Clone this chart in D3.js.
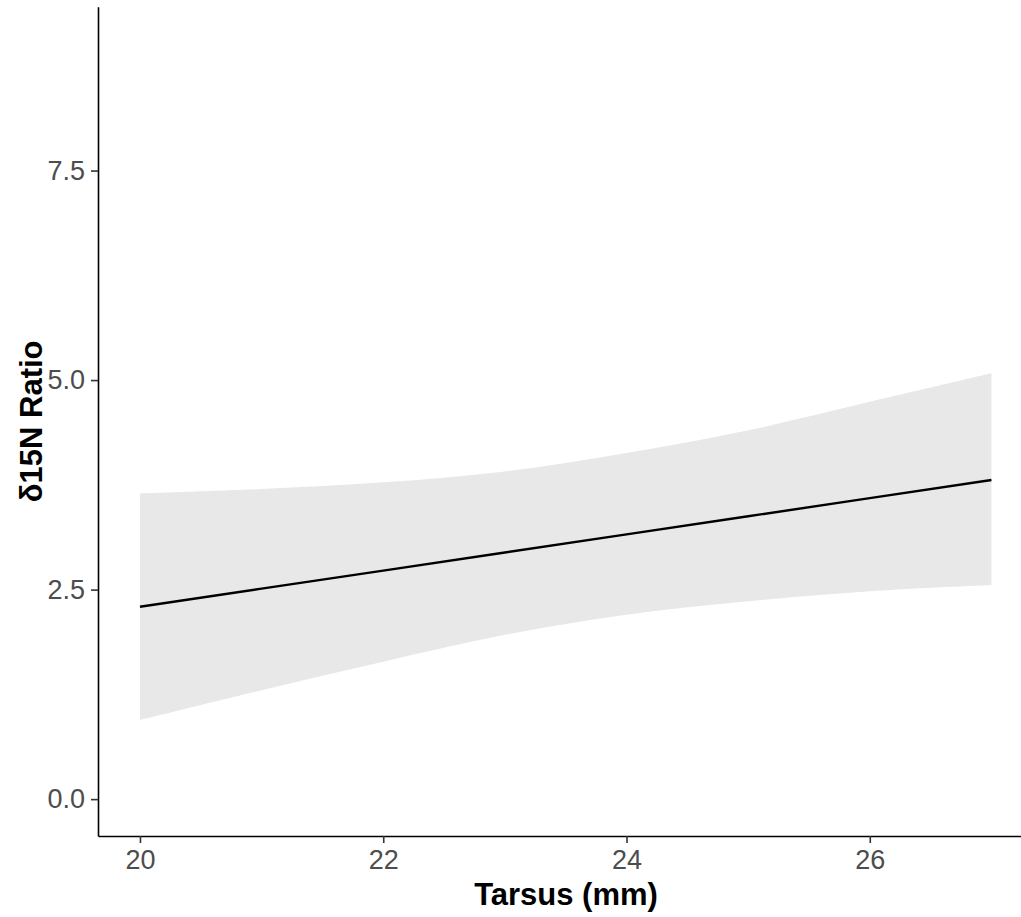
<!DOCTYPE html>
<html>
<head>
<meta charset="utf-8">
<script src="https://cdn.jsdelivr.net/npm/d3@7"></script>
<style>
  body { margin: 0; background: #fff; }
  svg { display: block; font-family: "Liberation Sans", Arial, sans-serif; }
</style>
</head>
<body>
<div id="chart"></div>
<script>
// values
const tarsus = [20, 21, 22, 23, 24, 25, 26, 27];
const fitN15 = [2.295, 2.511, 2.727, 2.943, 3.159, 3.375, 3.591, 3.807];
const upperN15 = [3.648, 3.70, 3.78, 3.91, 4.13, 4.40, 4.74, 5.08];
const lowerN15 = [0.943, 1.30, 1.64, 1.96, 2.20, 2.36, 2.48, 2.554];
const xTicks = [20, 22, 24, 26];
const yTicks = [0, 2.5, 5, 7.5];

const width = 1021, height = 917;
const panel = { left: 98, right: 1034, top: 6.7, bottom: 836 };

const svg = d3.select("#chart").append("svg")
  .attr("width", width)
  .attr("height", height);

const x = d3.scaleLinear().domain([19.655, 27.35]).range([panel.left, panel.right]);
const y = d3.scaleLinear().domain([-0.44, 9.455]).range([panel.bottom, panel.top]);

const rows = tarsus.map((t, i) => ({ t, fit: fitN15[i], lo: lowerN15[i], hi: upperN15[i] }));

// confidence ribbon
svg.append("path")
  .datum(rows)
  .attr("fill", "#e8e8e8")
  .attr("d", d3.area()
    .x(d => x(d.t))
    .y0(d => y(d.lo))
    .y1(d => y(d.hi))
    .curve(d3.curveCatmullRom));

// fitted line
svg.append("path")
  .datum(rows)
  .attr("fill", "none")
  .attr("stroke", "#000")
  .attr("stroke-width", 2.4)
  .attr("d", d3.line().x(d => x(d.t)).y(d => y(d.fit)));

// axes
const xAxis = svg.append("g")
  .attr("transform", `translate(0,${panel.bottom})`)
  .call(d3.axisBottom(x).tickValues(xTicks).tickFormat(d3.format("d")).tickSizeInner(7).tickSizeOuter(0).tickPadding(7));

const yAxis = svg.append("g")
  .attr("transform", `translate(${panel.left},0)`)
  .call(d3.axisLeft(y).tickValues(yTicks).tickFormat(d3.format(".1f")).tickSizeInner(7).tickSizeOuter(0).tickPadding(6));

[xAxis, yAxis].forEach(g => {
  g.select(".domain").attr("stroke", "#000").attr("stroke-width", 1.6);
  g.selectAll(".tick line").attr("stroke", "#333").attr("stroke-width", 1.6);
  g.selectAll(".tick text")
    .attr("fill", "#4d4d4d")
    .attr("font-size", 27)
    .attr("font-family", "Liberation Sans, Arial, sans-serif");
});

// axis titles
svg.append("text")
  .attr("x", (panel.left + panel.right) / 2)
  .attr("y", 905)
  .attr("text-anchor", "middle")
  .attr("font-size", 31)
  .attr("font-weight", "bold")
  .text("Tarsus (mm)");

svg.append("text")
  .attr("transform", `translate(42,${(panel.top + panel.bottom) / 2}) rotate(-90)`)
  .attr("text-anchor", "middle")
  .attr("font-size", 31)
  .attr("font-weight", "bold")
  .text("δ15N Ratio");
</script>
</body>
</html>
